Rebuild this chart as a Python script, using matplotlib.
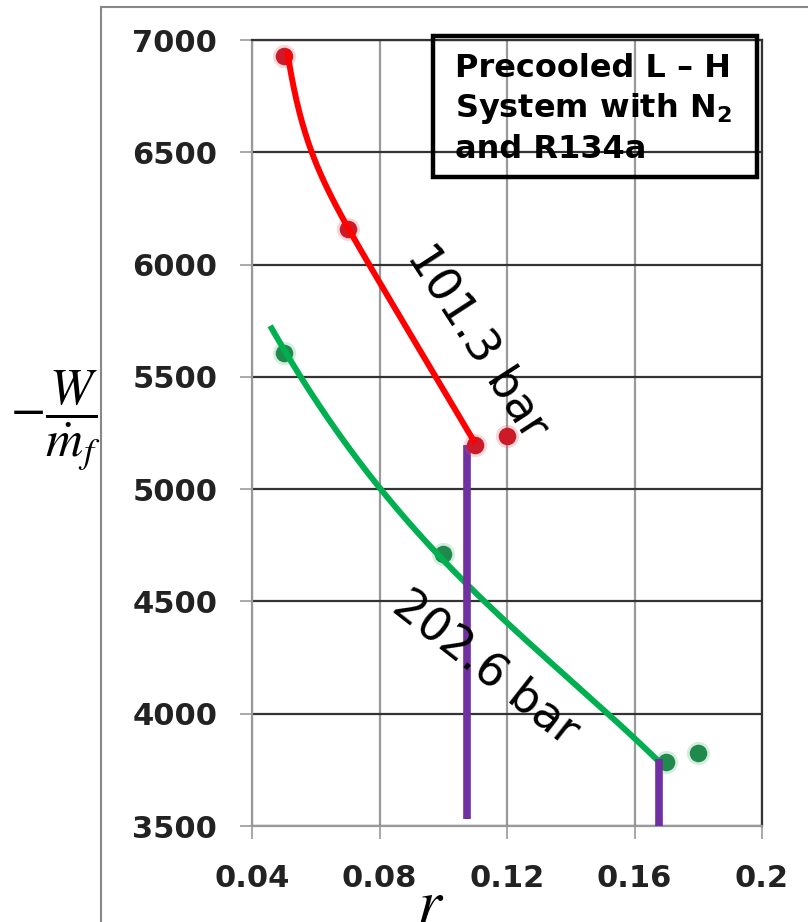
import numpy as np
import matplotlib
matplotlib.use('Agg')
import matplotlib.pyplot as plt
from matplotlib.patches import Rectangle
from matplotlib.lines import Line2D

# measured points (r, -W/mf)
redR = [0.05, 0.07, 0.11, 0.12]
redW = [6930, 6160, 5195, 5235]
greenR = [0.05, 0.10, 0.17, 0.18]
greenW = [5605, 4710, 3786, 3825]

redCurveR = [0.051, 0.0588, 0.0698, 0.0981, 0.110]
redCurveW = [6955, 6500, 6167, 5500, 5197]
greenCurveR = [0.0457, 0.0551, 0.0802, 0.0959, 0.1138, 0.1508, 0.1681]
greenCurveW = [5731, 5500, 5000, 4743, 4500, 4000, 3786]

# purple cut-off markers
cutR = [0.1075, 0.1678]
cutTop = [5197, 3799]
cutBottom = [3530, 3500]

xTicks = [0.04, 0.08, 0.12, 0.16, 0.2]
xTickLabels = ['0.04', '0.08', '0.12', '0.16', '0.2']
yTicks = [3500, 4000, 4500, 5000, 5500, 6000, 6500, 7000]

boxLines = ['Precooled L \u2013 H', 'System with N$_\\mathbf{2}$', 'and R134a']

W_PX, H_PX = 808, 922


def fx(px):
    return px / W_PX


def fy(py):
    return 1 - py / H_PX


def knee_fit(r, w, x):
    """least squares of w = a + b*r + c*exp(-(r - r0)/tau), tau picked from a few tries"""
    r = np.asarray(r)
    w = np.asarray(w)
    best = None
    for tau in [0.002, 0.003, 0.004, 0.005, 0.006, 0.008]:
        A = np.column_stack([np.ones_like(r), r, np.exp(-(r - r[0]) / tau)])
        coef, res, _, _ = np.linalg.lstsq(A, w, rcond=None)
        err = np.sum((A @ coef - w) ** 2)
        if best is None or err < best[0]:
            best = (err, tau, coef)
    _, tau, coef = best
    return coef[0] + coef[1] * x + coef[2] * np.exp(-(x - r[0]) / tau)


fig = plt.figure(figsize=(8.08, 9.22), dpi=100)
ax = fig.add_axes([fx(252), fy(826), fx(762) - fx(252), fy(40) - fy(826)])

# trend curves
rr = np.linspace(min(redCurveR), max(redCurveR), 200)
ax.plot(rr, knee_fit(redCurveR, redCurveW, rr),
        color='#ff0000', lw=4.3, solid_capstyle='butt', zorder=6)
gg = np.linspace(min(greenCurveR), max(greenCurveR), 200)
ax.plot(gg, np.polyval(np.polyfit(greenCurveR, greenCurveW, 3), gg),
        color='#00b050', lw=4.3, solid_capstyle='butt', zorder=3.5)

# points, soft halo + core
ax.scatter(redR, redW, s=280, color='#e8505a', alpha=0.22, lw=0, zorder=5)
ax.scatter(redR, redW, s=160, color='#cc1a28', lw=0, zorder=5)
ax.scatter(greenR, greenW, s=280, color='#40b070', alpha=0.22, lw=0, zorder=3)
ax.scatter(greenR, greenW, s=160, color='#1f8a4c', lw=0, zorder=3)

ax.vlines(cutR, cutBottom, cutTop, color='#7030a0', lw=5.5, zorder=4)

ax.set_xlim(0.04, 0.2)
ax.set_ylim(3500, 7000)
ax.set_xticks(xTicks)
ax.set_xticklabels(xTickLabels)
ax.set_yticks(yTicks)
for lab in ax.get_xticklabels() + ax.get_yticklabels():
    lab.set_fontsize(22)
    lab.set_fontweight('bold')
    lab.set_color('#222222')
ax.tick_params(axis='y', direction='out', length=9, width=1.2, color='#999999', pad=16)
ax.tick_params(axis='x', direction='out', length=9, width=1.2, color='#999999', pad=18)

ax.yaxis.grid(True, color='#333333', lw=1.6)
ax.xaxis.grid(True, color='#999999', lw=1.6)
ax.set_axisbelow(True)
ax.spines['left'].set_color('#999999')
ax.spines['bottom'].set_color('#999999')
ax.spines['top'].set_color('#333333')
ax.spines['right'].set_color('#333333')
for s in ax.spines.values():
    s.set_linewidth(1.6)

# curve labels
ax.text(0.1106, 5656, '101.3 bar', rotation=-57, rotation_mode='anchor',
        ha='center', va='center', fontsize=33, zorder=7)
ax.text(0.1132, 4204, '202.6 bar', rotation=-38, rotation_mode='anchor',
        ha='center', va='center', fontsize=33, zorder=7)

# title box (not filled, grid shows through)
fig.add_artist(Rectangle((fx(433), fy(177)), fx(757) - fx(433), fy(36) - fy(177),
                         transform=fig.transFigure, fill=False, ec='black', lw=3.2))
for i, line in enumerate(boxLines):
    fig.text(fx(455), fy(77 + i * 40.5), line, fontsize=23, fontweight='bold',
             va='baseline', ha='left')

# axis labels in Times style
fig.text(fx(55), fy(420), r'$-\dfrac{W}{\dot{m}_f}$', fontsize=37,
         math_fontfamily='stix', ha='center', va='center')
fig.text(fx(431), fy(922), r'$r$', fontsize=44, math_fontfamily='stix',
         ha='center', va='baseline')

# outer frame of the pasted figure
fig.add_artist(Line2D([fx(101), fx(101)], [0, fy(7)], transform=fig.transFigure,
                      color='#888888', lw=1.5))
fig.add_artist(Line2D([fx(101), 1], [fy(7), fy(7)], transform=fig.transFigure,
                      color='#888888', lw=1.5))

fig.savefig('out.png', dpi=100)
